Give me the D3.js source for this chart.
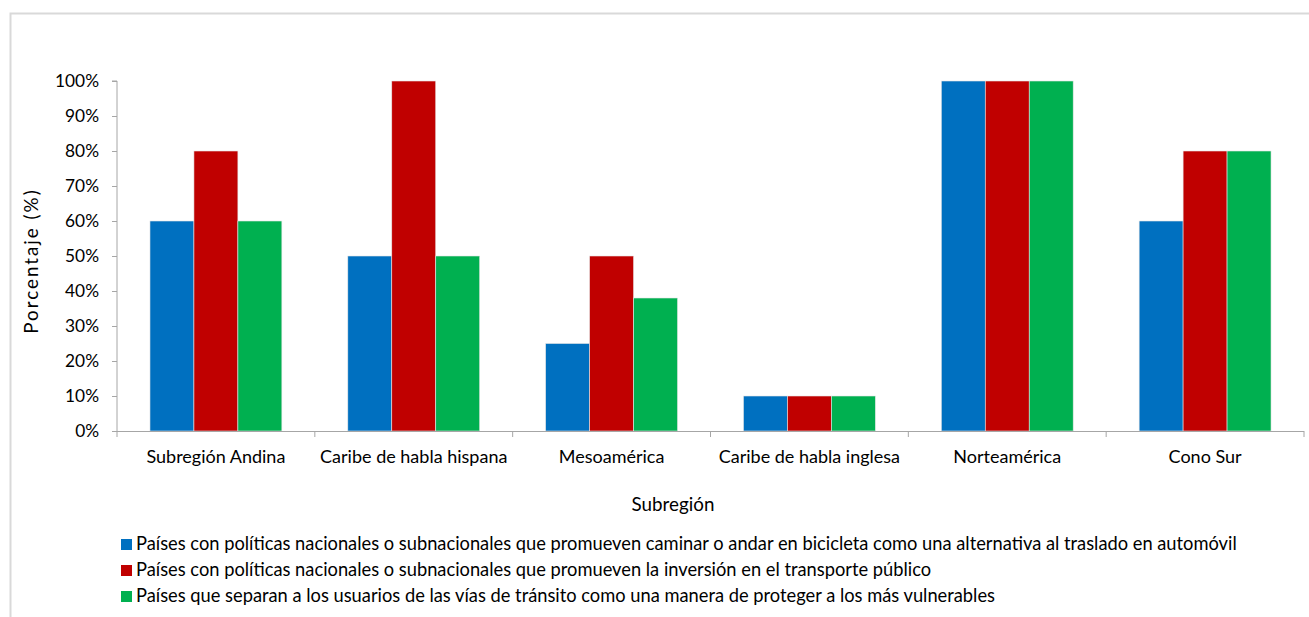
<!DOCTYPE html>
<html><head><meta charset="utf-8">
<script src="https://cdn.jsdelivr.net/npm/d3@7"></script>
<style>body{margin:0;background:#fff;} svg{display:block;} text{font-family:Lato,"Open Sans",sans-serif;fill:#000;}</style>
</head><body>
<svg id="c" width="1309" height="617"></svg>
<script>
const categories = ["Subregión Andina","Caribe de habla hispana","Mesoamérica","Caribe de habla inglesa","Norteamérica","Cono Sur"];
const seriesNames = [
  "Países con políticas nacionales o subnacionales que promueven caminar o andar en bicicleta como una alternativa al traslado en automóvil",
  "Países con políticas nacionales o subnacionales que promueven la inversión en el transporte público",
  "Países que separan a los usuarios de las vías de tránsito como una manera de proteger a los más vulnerables"
];
const walkBike = [60,50,25,10,100,60];
const transit = [80,100,50,10,100,80];
const separate = [60,50,38,10,100,80];
const yTicks = [0,10,20,30,40,50,60,70,80,90,100];
const colors = ["#0070C0","#C00000","#00B050"];
const series = [walkBike, transit, separate];

const svg = d3.select("#c");
svg.append("rect").attr("x",10.5).attr("y",13.5).attr("width",1400).attr("height",700)
  .attr("fill","none").attr("stroke","#D9D9D9").attr("stroke-width",2);

const L=117, R=1304, T=81, B=431;
const x0 = d3.scaleBand().domain(categories).range([L,R]).padding(0);
const gw = x0.bandwidth()*2/3;
const x1 = d3.scaleBand().domain([0,1,2]).range([0,gw]).padding(0);
const y = d3.scaleLinear().domain([0,100]).range([B,T]);

const g = svg.append("g");
categories.forEach((c,i)=>{
  series.forEach((s,j)=>{
    g.append("rect")
      .attr("x", x0(c) + (x0.bandwidth()-gw)/2 + x1(j))
      .attr("y", y(s[i]))
      .attr("width", x1.bandwidth())
      .attr("height", y(0)-y(s[i]))
      .attr("fill", colors[j])
      .attr("stroke","#e6e6e6").attr("stroke-width",0.6);
  });
});

const ya = svg.append("g").attr("transform",`translate(${L},0)`)
  .call(d3.axisLeft(y).tickValues(yTicks).tickSize(5).tickPadding(13).tickFormat(d=>d+"%"));
ya.select(".domain").attr("stroke","#A6A6A6").attr("d",`M-5,${T}H0V${B}`);
ya.selectAll(".tick line").attr("stroke","#A6A6A6");
ya.selectAll(".tick text").style("font-size","17.3px").style("font-family","Lato,sans-serif").attr("fill","#000");

const xa = svg.append("g").attr("transform",`translate(0,${B})`);
xa.append("line").attr("x1",L).attr("x2",R).attr("y1",0.5).attr("y2",0.5).attr("stroke","#A6A6A6");
const bounds = categories.map(c=>x0(c)).concat([R]);
bounds.forEach(b=>xa.append("line").attr("x1",b).attr("x2",b).attr("y1",0).attr("y2",6).attr("stroke","#A6A6A6"));
categories.forEach(c=>{
  xa.append("text").attr("x",x0(c)+x0.bandwidth()/2).attr("y",32).attr("text-anchor","middle")
    .style("font-size","18px").text(c);
});

svg.append("text").attr("transform","translate(38,261) rotate(-90)").attr("text-anchor","middle")
  .style("font-size","18.8px").style("letter-spacing","2px").text("Porcentaje (%)");
svg.append("text").attr("x",673).attr("y",511).attr("text-anchor","middle").style("font-size","18.8px").text("Subregión");

seriesNames.forEach((n,j)=>{
  const ly = 545 + j*26;
  svg.append("rect").attr("x",121).attr("y",ly-6).attr("width",11).attr("height",11).attr("fill",colors[j]);
  svg.append("text").attr("x",136).attr("y",ly+5).style("font-size","18.3px").text(n);
});
</script>
</body></html>
